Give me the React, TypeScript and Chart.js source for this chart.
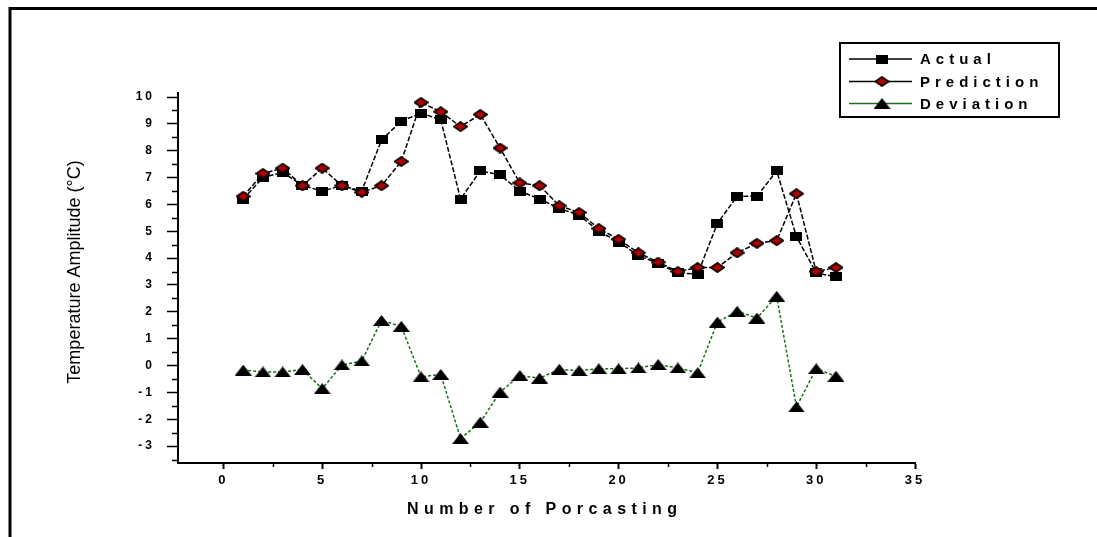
import { useEffect, useRef } from 'react';
import { Chart, registerables } from 'chart.js';

Chart.register(...registerables);

// ---------- data ----------
const forecastNumbers = [
  1, 2, 3, 4, 5, 6, 7, 8, 9, 10, 11, 12, 13, 14, 15, 16, 17, 18, 19, 20, 21, 22, 23, 24, 25, 26, 27, 28, 29, 30, 31,
];
const actualValues = [
  6.2, 7.0, 7.2, 6.7, 6.5, 6.7, 6.5, 8.4, 9.1, 9.4, 9.15, 6.2, 7.25, 7.1, 6.5, 6.2, 5.85, 5.6, 5.0, 4.6, 4.1, 3.8,
  3.45, 3.4, 5.3, 6.3, 6.3, 7.25, 4.8, 3.45, 3.3,
];
const predictionValues = [
  6.3, 7.15, 7.35, 6.7, 7.35, 6.7, 6.45, 6.7, 7.6, 9.8, 9.45, 8.9, 9.35, 8.1, 6.8, 6.7, 5.95, 5.7, 5.1, 4.7, 4.2,
  3.85, 3.5, 3.65, 3.65, 4.2, 4.55, 4.65, 6.4, 3.5, 3.65,
];
const deviationValues = [
  -0.17, -0.24, -0.24, -0.15, -0.86, 0.02, 0.17, 1.68, 1.46, -0.42, -0.33, -2.72, -2.11, -0.99, -0.37, -0.47, -0.14,
  -0.19, -0.12, -0.12, -0.09, 0.04, -0.09, -0.27, 1.62, 2.02, 1.77, 2.58, -1.54, -0.12, -0.4,
];
const seriesNames = ['Actual', 'Prediction', 'Deviation'];
const xTickValues = [0, 5, 10, 15, 20, 25, 30, 35];
const xMinorTickValues = [2.5, 7.5, 12.5, 17.5, 22.5, 27.5, 32.5];
const yTickValues = [-3, -2, -1, 0, 1, 2, 3, 4, 5, 6, 7, 8, 9, 10];
const yMinorTickValues = [-3.5, -2.5, -1.5, -0.5, 0.5, 1.5, 2.5, 3.5, 4.5, 5.5, 6.5, 7.5, 8.5, 9.5];
const xTitle = 'Number of Porcasting';
const yTitle = 'Temperature Amplitude (°C)';

const FONT = '"Liberation Sans", Arial, sans-serif';

function makeMarker(w: number, h: number, draw: (ctx: CanvasRenderingContext2D) => void) {
  const c = document.createElement('canvas');
  c.width = w;
  c.height = h;
  const ctx = c.getContext('2d')!;
  draw(ctx);
  return c;
}

export default function App() {
  const ref = useRef<HTMLCanvasElement | null>(null);

  useEffect(() => {
    if (!ref.current) return;

    const square = makeMarker(12, 9, (ctx) => {
      ctx.fillStyle = '#000';
      ctx.fillRect(0, 0, 12, 9);
    });
    const diamond = makeMarker(15, 11, (ctx) => {
      ctx.beginPath();
      ctx.moveTo(7.5, 0.9);
      ctx.lineTo(14.1, 5.5);
      ctx.lineTo(7.5, 10.1);
      ctx.lineTo(0.9, 5.5);
      ctx.closePath();
      ctx.fillStyle = '#b00000';
      ctx.fill();
      ctx.lineWidth = 1.8;
      ctx.strokeStyle = '#140000';
      ctx.stroke();
    });
    const triangle = makeMarker(17, 11, (ctx) => {
      ctx.beginPath();
      ctx.moveTo(8.5, 0);
      ctx.lineTo(17, 11);
      ctx.lineTo(0, 11);
      ctx.closePath();
      ctx.fillStyle = '#000';
      ctx.fill();
    });

    const toPoints = (vals: number[]) => forecastNumbers.map((x, i) => ({ x, y: vals[i] }));

    const lineColors = ['#000000', '#000000', '#1b6e1b'];
    const markers = [square, diamond, triangle];

    const decor = {
      id: 'decor',
      beforeDraw(chart: any) {
        const ctx = chart.ctx as any;
        ctx.letterSpacing = '3px';
      },
      afterDraw(chart: any) {
        const ctx = chart.ctx as any;
        const xs = chart.scales.x;
        const ys = chart.scales.y;
        const area = chart.chartArea;
        ctx.save();
        ctx.letterSpacing = '0px';
        // minor ticks
        ctx.strokeStyle = '#000';
        ctx.lineWidth = 1.5;
        ctx.beginPath();
        yMinorTickValues.forEach((v) => {
          const py = Math.round(ys.getPixelForValue(v)) + 0.5;
          ctx.moveTo(area.left - 6, py);
          ctx.lineTo(area.left, py);
        });
        xMinorTickValues.forEach((v) => {
          const px = Math.round(xs.getPixelForValue(v)) + 0.5;
          ctx.moveTo(px, area.bottom);
          ctx.lineTo(px, area.bottom + 4);
        });
        ctx.stroke();

        // outer frame (left + top)
        ctx.lineWidth = 3;
        ctx.beginPath();
        ctx.moveTo(10, 537);
        ctx.lineTo(10, 8.5);
        ctx.lineTo(1097, 8.5);
        ctx.stroke();

        // y title
        ctx.save();
        ctx.translate(75, 272);
        ctx.rotate(-Math.PI / 2);
        ctx.font = `18px ${FONT}`;
        ctx.fillStyle = '#000';
        ctx.textAlign = 'center';
        ctx.textBaseline = 'middle';
        ctx.fillText(yTitle, 0, 0);
        ctx.restore();

        // x title
        ctx.font = `bold 16px ${FONT}`;
        ctx.fillStyle = '#000';
        ctx.textBaseline = 'middle';
        ctx.textAlign = 'left';
        const w0 = ctx.measureText(xTitle).width;
        const sp = (270 - w0) / (xTitle.length - 1);
        ctx.letterSpacing = `${sp}px`;
        ctx.fillText(xTitle, 407, 510);
        ctx.letterSpacing = '0px';

        // legend
        ctx.lineWidth = 2;
        ctx.strokeStyle = '#000';
        ctx.strokeRect(840, 43, 219, 74);
        const rows = [59, 81.5, 103.5];
        seriesNames.forEach((name, i) => {
          const y = rows[i];
          ctx.strokeStyle = lineColors[i];
          ctx.lineWidth = 1.5;
          ctx.beginPath();
          ctx.moveTo(849, y);
          ctx.lineTo(912, y);
          ctx.stroke();
          const m = markers[i];
          ctx.drawImage(m, 882 - m.width / 2, y - m.height / 2);
          ctx.font = `bold 15px ${FONT}`;
          ctx.letterSpacing = '5px';
          ctx.fillStyle = '#000';
          ctx.textAlign = 'left';
          ctx.textBaseline = 'middle';
          ctx.fillText(name, 920, y + 1);
          ctx.letterSpacing = '0px';
        });
        ctx.restore();
      },
    };

    const chart = new Chart(ref.current, {
      type: 'line',
      data: {
        datasets: [
          {
            label: seriesNames[0],
            data: toPoints(actualValues),
            borderColor: lineColors[0],
            borderWidth: 1.5,
            borderDash: [5, 2],
            pointStyle: square as any,
            order: 1,
          },
          {
            label: seriesNames[1],
            data: toPoints(predictionValues),
            borderColor: lineColors[1],
            borderWidth: 1.5,
            borderDash: [5, 2],
            pointStyle: diamond as any,
            order: 0,
          },
          {
            label: seriesNames[2],
            data: toPoints(deviationValues),
            borderColor: lineColors[2],
            borderWidth: 1.5,
            borderDash: [3, 2],
            pointStyle: triangle as any,
            order: 2,
          },
        ],
      },
      options: {
        responsive: false,
        animation: false,
        devicePixelRatio: 1,
        layout: { padding: { left: 0, right: 182, top: 93, bottom: 0 } },
        plugins: { legend: { display: false }, tooltip: { enabled: false } },
        elements: { line: { tension: 0 }, point: { radius: 6 } },
        scales: {
          x: {
            type: 'linear',
            min: -2.3,
            max: 35,
            afterBuildTicks: (s: any) => {
              s.ticks = xTickValues.map((v) => ({ value: v }));
            },
            afterFit: (s: any) => {
              s.height = 74;
            },
            ticks: {
              color: '#000',
              font: { family: FONT, size: 13, weight: 'bold' },
              padding: 4,
              maxRotation: 0,
              autoSkip: false,
            },
            grid: {
              display: true,
              drawOnChartArea: false,
              drawTicks: true,
              tickLength: 6,
              tickColor: '#000',
              tickWidth: 2,
            },
            border: { display: true, color: '#000', width: 2 },
          },
          y: {
            type: 'linear',
            min: -3.63,
            max: 10.15,
            afterBuildTicks: (s: any) => {
              s.ticks = yTickValues.map((v) => ({ value: v }));
            },
            afterFit: (s: any) => {
              s.width = 178;
            },
            ticks: {
              color: '#000',
              font: { family: FONT, size: 12, weight: 'bold' },
              padding: 12,
            },
            grid: {
              display: true,
              drawOnChartArea: false,
              drawTicks: true,
              tickLength: 11,
              tickColor: '#000',
              tickWidth: 1.5,
            },
            border: { display: true, color: '#000', width: 2 },
          },
        },
      } as any,
      plugins: [decor],
    });

    return () => chart.destroy();
  }, []);

  return (
    <div style={{ position: 'fixed', left: 0, top: 0, width: 1097, height: 537, background: '#fff' }}>
      <canvas ref={ref} width={1097} height={537} style={{ display: 'block' }} />
    </div>
  );
}
